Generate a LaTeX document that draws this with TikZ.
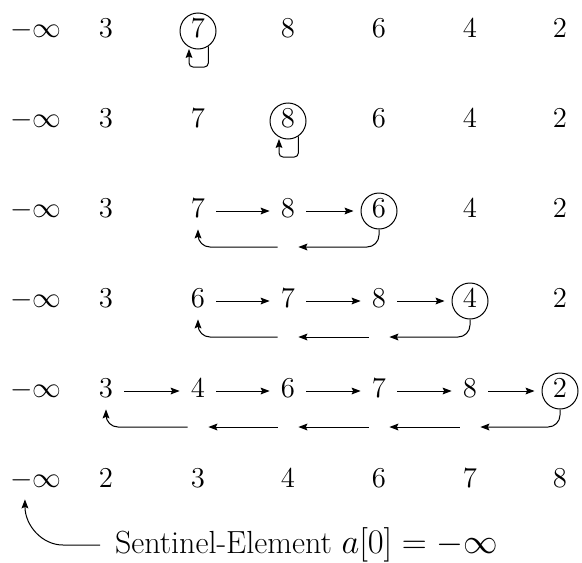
\documentclass[tikz,border=0pt]{standalone}
\usetikzlibrary{arrows.meta,calc}
\begin{document}
\begin{tikzpicture}[x=0.5pt,y=-0.5pt,
  num/.style={minimum width=18pt, minimum height=18pt, inner sep=0pt,
    text height=0.7em, text depth=0.05em, font=\fontsize{14.5}{17}\selectfont},
  circ/.style={num, circle, draw, line width=0.5pt},
  bot/.style={minimum width=10pt, minimum height=0pt, inner sep=0pt},
  arr/.style={-{Stealth[length=4.5pt,width=3.4pt,inset=0.8pt]}, line width=0.5pt},
  tocirc/.style={arr, shorten >=3.5pt},
  ret/.style={arr, rounded corners=6pt},
  loopy/.style={arr, rounded corners=2pt}]
\useasboundingbox (0,0) rectangle (582,562);
% row 1
\node[num] (a0) at (36,31) {$-\infty$};
\node[num] (a1) at (106,31) {$3$};
\node[circ] (a2) at (198,31) {$7$};
\node[num] (a3) at (288,31) {$8$};
\node[num] (a4) at (379,31) {$6$};
\node[num] (a5) at (470,31) {$4$};
\node[num] (a6) at (560,31) {$2$};
\draw[loopy] (a2.-56) |- ($(a2.center)+(-9,36)$) -- ($(a2.center)+(-9,18)$);
% row 2
\node[num] (b0) at (36,121) {$-\infty$};
\node[num] (b1) at (106,121) {$3$};
\node[num] (b2) at (198,121) {$7$};
\node[circ] (b3) at (288,121) {$8$};
\node[num] (b4) at (379,121) {$6$};
\node[num] (b5) at (470,121) {$4$};
\node[num] (b6) at (560,121) {$2$};
\draw[loopy] (b3.-56) |- ($(b3.center)+(-9,36)$) -- ($(b3.center)+(-9,18)$);
% row 3
\node[num] (c0) at (36,211) {$-\infty$};
\node[num] (c1) at (106,211) {$3$};
\node[num] (c2) at (198,211) {$7$};
\node[num] (c3) at (288,211) {$8$};
\node[circ] (c4) at (379,211) {$6$};
\node[num] (c5) at (470,211) {$4$};
\node[num] (c6) at (560,211) {$2$};
\node[bot] (cb3) at (288,247) {};
\draw[arr] (c2.east) -- (c3.west);
\draw[tocirc] (c3.east) -- (c4.west);
\draw[ret] (c4.south) |- (cb3.east);
\draw[ret] (cb3.west) -| (c2.south);
% row 4
\node[num] (d0) at (36,301) {$-\infty$};
\node[num] (d1) at (106,301) {$3$};
\node[num] (d2) at (198,301) {$6$};
\node[num] (d3) at (288,301) {$7$};
\node[num] (d4) at (379,301) {$8$};
\node[circ] (d5) at (470,301) {$4$};
\node[num] (d6) at (560,301) {$2$};
\node[bot] (db3) at (288,337) {};
\node[bot] (db4) at (379,337) {};
\draw[arr] (d2.east) -- (d3.west);
\draw[arr] (d3.east) -- (d4.west);
\draw[tocirc] (d4.east) -- (d5.west);
\draw[ret] (d5.south) |- (db4.east);
\draw[arr] (db4.west) -- (db3.east);
\draw[ret] (db3.west) -| (d2.south);
% row 5
\node[num] (e0) at (36,391) {$-\infty$};
\node[num] (e1) at (106,391) {$3$};
\node[num] (e2) at (198,391) {$4$};
\node[num] (e3) at (288,391) {$6$};
\node[num] (e4) at (379,391) {$7$};
\node[num] (e5) at (470,391) {$8$};
\node[circ] (e6) at (560,391) {$2$};
\node[bot] (eb2) at (198,427) {};
\node[bot] (eb3) at (288,427) {};
\node[bot] (eb4) at (379,427) {};
\node[bot] (eb5) at (470,427) {};
\draw[arr] (e1.east) -- (e2.west);
\draw[arr] (e2.east) -- (e3.west);
\draw[arr] (e3.east) -- (e4.west);
\draw[arr] (e4.east) -- (e5.west);
\draw[tocirc] (e5.east) -- (e6.west);
\draw[ret] (e6.south) |- (eb5.east);
\draw[arr] (eb5.west) -- (eb4.east);
\draw[arr] (eb4.west) -- (eb3.east);
\draw[arr] (eb3.west) -- (eb2.east);
\draw[ret] (eb2.west) -| (e1.south);
% row 6
\node[num] (f0) at (36,481) {$-\infty$};
\node[num] (f1) at (106,481) {$2$};
\node[num] (f2) at (198,481) {$3$};
\node[num] (f3) at (288,481) {$4$};
\node[num] (f4) at (379,481) {$6$};
\node[num] (f5) at (470,481) {$7$};
\node[num] (f6) at (560,481) {$8$};
% sentinel
\node[anchor=west, inner sep=0pt, outer sep=7.5pt, font=\fontsize{16}{19}\selectfont]
  (sent) at (100,545) {Sentinel-Element $a[0] = -\infty$};
\draw[arr] (sent.west) -- ++(-37,0) .. controls +(-21,0) and +(0,26) .. (f0.-121);
\end{tikzpicture}
\end{document}
